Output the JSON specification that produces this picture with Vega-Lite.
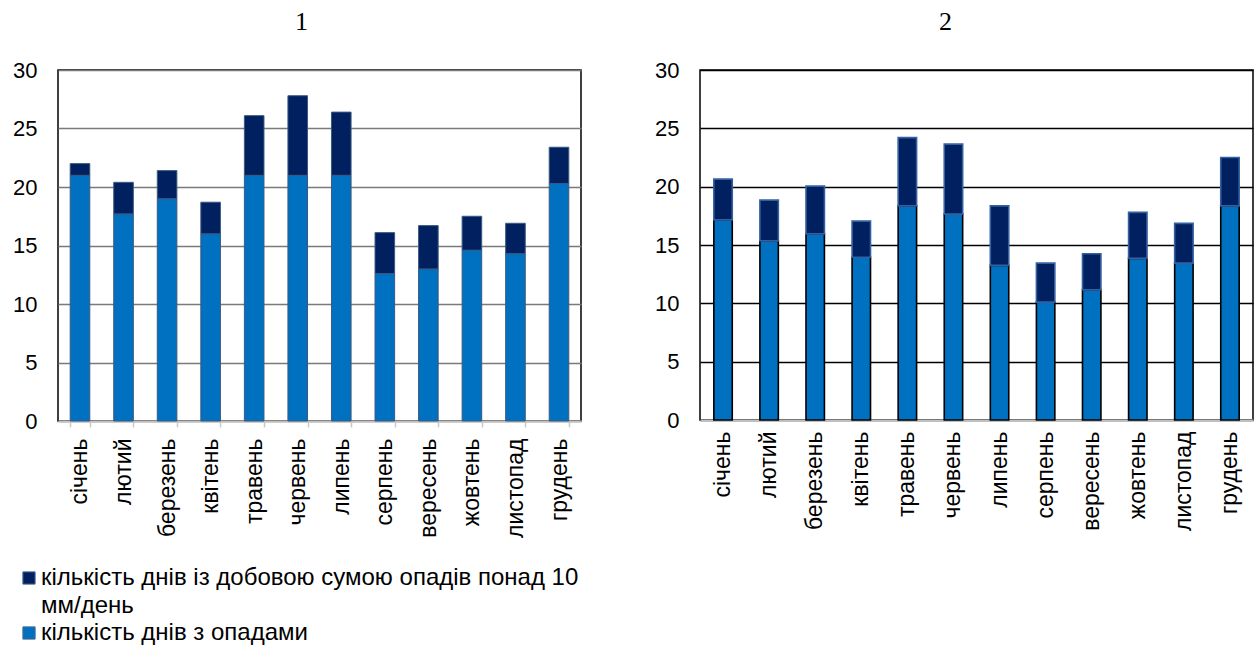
{
  "$schema": "https://vega.github.io/schema/vega-lite/v6.json",
  "background": "white",
  "padding": {"left": 11, "top": 8, "right": 2, "bottom": 0},
  "datasets": {
    "rows": [
      {"panel": "1", "month": "січень", "series": "кількість днів з опадами", "value": 21.0},
      {"panel": "1", "month": "лютий", "series": "кількість днів з опадами", "value": 17.7},
      {"panel": "1", "month": "березень", "series": "кількість днів з опадами", "value": 19.0},
      {"panel": "1", "month": "квітень", "series": "кількість днів з опадами", "value": 16.0},
      {"panel": "1", "month": "травень", "series": "кількість днів з опадами", "value": 21.0},
      {"panel": "1", "month": "червень", "series": "кількість днів з опадами", "value": 21.0},
      {"panel": "1", "month": "липень", "series": "кількість днів з опадами", "value": 21.0},
      {"panel": "1", "month": "серпень", "series": "кількість днів з опадами", "value": 12.6},
      {"panel": "1", "month": "вересень", "series": "кількість днів з опадами", "value": 13.0},
      {"panel": "1", "month": "жовтень", "series": "кількість днів з опадами", "value": 14.6},
      {"panel": "1", "month": "листопад", "series": "кількість днів з опадами", "value": 14.3},
      {"panel": "1", "month": "грудень", "series": "кількість днів з опадами", "value": 20.3},
      {"panel": "1", "month": "січень", "series": "кількість днів із добовою сумою  опадів понад 10 мм/день", "value": 1.0},
      {"panel": "1", "month": "лютий", "series": "кількість днів із добовою сумою  опадів понад 10 мм/день", "value": 2.7},
      {"panel": "1", "month": "березень", "series": "кількість днів із добовою сумою  опадів понад 10 мм/день", "value": 2.4},
      {"panel": "1", "month": "квітень", "series": "кількість днів із добовою сумою  опадів понад 10 мм/день", "value": 2.7},
      {"panel": "1", "month": "травень", "series": "кількість днів із добовою сумою  опадів понад 10 мм/день", "value": 5.1},
      {"panel": "1", "month": "червень", "series": "кількість днів із добовою сумою  опадів понад 10 мм/день", "value": 6.8},
      {"panel": "1", "month": "липень", "series": "кількість днів із добовою сумою  опадів понад 10 мм/день", "value": 5.4},
      {"panel": "1", "month": "серпень", "series": "кількість днів із добовою сумою  опадів понад 10 мм/день", "value": 3.5},
      {"panel": "1", "month": "вересень", "series": "кількість днів із добовою сумою  опадів понад 10 мм/день", "value": 3.7},
      {"panel": "1", "month": "жовтень", "series": "кількість днів із добовою сумою  опадів понад 10 мм/день", "value": 2.9},
      {"panel": "1", "month": "листопад", "series": "кількість днів із добовою сумою  опадів понад 10 мм/день", "value": 2.6},
      {"panel": "1", "month": "грудень", "series": "кількість днів із добовою сумою  опадів понад 10 мм/день", "value": 3.1},
      {"panel": "2", "month": "січень", "series": "кількість днів з опадами", "value": 17.15},
      {"panel": "2", "month": "лютий", "series": "кількість днів з опадами", "value": 15.35},
      {"panel": "2", "month": "березень", "series": "кількість днів з опадами", "value": 15.95},
      {"panel": "2", "month": "квітень", "series": "кількість днів з опадами", "value": 13.95},
      {"panel": "2", "month": "травень", "series": "кількість днів з опадами", "value": 18.35},
      {"panel": "2", "month": "червень", "series": "кількість днів з опадами", "value": 17.65},
      {"panel": "2", "month": "липень", "series": "кількість днів з опадами", "value": 13.25},
      {"panel": "2", "month": "серпень", "series": "кількість днів з опадами", "value": 10.1},
      {"panel": "2", "month": "вересень", "series": "кількість днів з опадами", "value": 11.15},
      {"panel": "2", "month": "жовтень", "series": "кількість днів з опадами", "value": 13.85},
      {"panel": "2", "month": "листопад", "series": "кількість днів з опадами", "value": 13.45},
      {"panel": "2", "month": "грудень", "series": "кількість днів з опадами", "value": 18.35},
      {"panel": "2", "month": "січень", "series": "кількість днів із добовою сумою  опадів понад 10 мм/день", "value": 3.5},
      {"panel": "2", "month": "лютий", "series": "кількість днів із добовою сумою  опадів понад 10 мм/день", "value": 3.5},
      {"panel": "2", "month": "березень", "series": "кількість днів із добовою сумою  опадів понад 10 мм/день", "value": 4.1},
      {"panel": "2", "month": "квітень", "series": "кількість днів із добовою сумою  опадів понад 10 мм/день", "value": 3.1},
      {"panel": "2", "month": "травень", "series": "кількість днів із добовою сумою  опадів понад 10 мм/день", "value": 5.85},
      {"panel": "2", "month": "червень", "series": "кількість днів із добовою сумою  опадів понад 10 мм/день", "value": 6.0},
      {"panel": "2", "month": "липень", "series": "кількість днів із добовою сумою  опадів понад 10 мм/день", "value": 5.1},
      {"panel": "2", "month": "серпень", "series": "кількість днів із добовою сумою  опадів понад 10 мм/день", "value": 3.35},
      {"panel": "2", "month": "вересень", "series": "кількість днів із добовою сумою  опадів понад 10 мм/день", "value": 3.1},
      {"panel": "2", "month": "жовтень", "series": "кількість днів із добовою сумою  опадів понад 10 мм/день", "value": 3.95},
      {"panel": "2", "month": "листопад", "series": "кількість днів із добовою сумою  опадів понад 10 мм/день", "value": 3.4},
      {"panel": "2", "month": "грудень", "series": "кількість днів із добовою сумою  опадів понад 10 мм/день", "value": 4.15}
    ]
  },
  "data": {"name": "rows"},
  "config": {
    "font": "Liberation Sans",
    "axis": {"labelFont": "Liberation Sans", "labelColor": "black", "labelFontSize": 22, "title": null},
    "axisX": {"labelFontSize": 23},
    "title": {"font": "Liberation Serif", "fontSize": 26, "fontWeight": "normal", "color": "black", "offset": 24},
    "view": {"stroke": "black", "strokeWidth": 1.5},
    "legend": {"labelFont": "Liberation Sans", "labelFontSize": 24, "labelColor": "black"}
  },
  "spacing": 71,
  "resolve": {"scale": {"color": "shared"}},
  "hconcat": [
    {
      "title": {"text": "1", "dx": -18},
      "width": 523,
      "height": 351,
      "transform": [{"filter": "datum.panel == '1'"}],
      "mark": {"type": "bar", "strokeWidth": 1, "stroke": "#3b5a80"},
      "encoding": {
        "x": {
          "field": "month", "type": "nominal",
          "sort": ["січень","лютий","березень","квітень","травень","червень","липень","серпень","вересень","жовтень","листопад","грудень"],
          "scale": {"paddingInner": 0.55, "paddingOuter": 0.28},
          "axis": {"labelAngle": -90, "labelPadding": 11, "domainColor": "#c0c0c0", "domainWidth": 2, "tickBand": "extent", "tickColor": "#c8c8c8", "tickSize": 6, "tickWidth": 1.5}
        },
        "y": {
          "field": "value", "type": "quantitative", "stack": "zero",
          "scale": {"domain": [0, 30], "nice": false},
          "axis": {"values": [0,5,10,15,20,25,30], "labelPadding": 21, "ticks": false, "domain": false, "gridColor": "#7a7a7a", "gridWidth": 1.6, "gridOpacity": 1}
        },
        "color": {
          "field": "series", "type": "nominal",
          "scale": {"domain": ["кількість днів із добовою сумою  опадів понад 10 мм/день", "мм/день", "кількість днів з опадами"], "range": ["#002060", "transparent", "#0070C0"]},
          "legend": {
            "title": null, "orient": "none", "legendX": -41, "legendY": 496, "direction": "vertical",
            "symbolType": "square", "symbolSize": 150, "symbolStrokeWidth": 1,
            "symbolStrokeColor": {"expr": "datum.label == 'мм/день' ? 'transparent' : '#4a6a90'"},
            "labelOffset": 0, "rowPadding": 3.5, "labelLimit": 800,
            "labelExpr": "datum.label == 'кількість днів із добовою сумою  опадів понад 10 мм/день' ? 'кількість днів із добовою сумою  опадів понад 10' : datum.label"
          }
        },
        "order": {"field": "series", "sort": "ascending"}
      }
    },
    {
      "title": {"text": "2", "dx": -31},
      "width": 553,
      "height": 350,
      "transform": [{"filter": "datum.panel == '2'"}],
      "mark": {"type": "bar", "strokeWidth": 1.6},
      "encoding": {
        "x": {
          "field": "month", "type": "nominal",
          "sort": ["січень","лютий","березень","квітень","травень","червень","липень","серпень","вересень","жовтень","листопад","грудень"],
          "scale": {"paddingInner": 0.6, "paddingOuter": 0.3},
          "axis": {"labelAngle": -90, "labelPadding": 11, "domainColor": "#c0c0c0", "domainWidth": 2, "ticks": false}
        },
        "y": {
          "field": "value", "type": "quantitative", "stack": "zero",
          "scale": {"domain": [0, 30], "nice": false},
          "axis": {"values": [0,5,10,15,20,25,30], "labelPadding": 21, "ticks": false, "domain": false, "gridColor": "black", "gridWidth": 1.6, "gridOpacity": 1}
        },
        "color": {"field": "series", "type": "nominal"},
        "stroke": {
          "field": "series", "type": "nominal",
          "scale": {"domain": ["кількість днів із добовою сумою  опадів понад 10 мм/день", "кількість днів з опадами"], "range": ["#3560a0", "black"]},
          "legend": null
        },
        "order": {"field": "series", "sort": "ascending"}
      }
    }
  ]
}
